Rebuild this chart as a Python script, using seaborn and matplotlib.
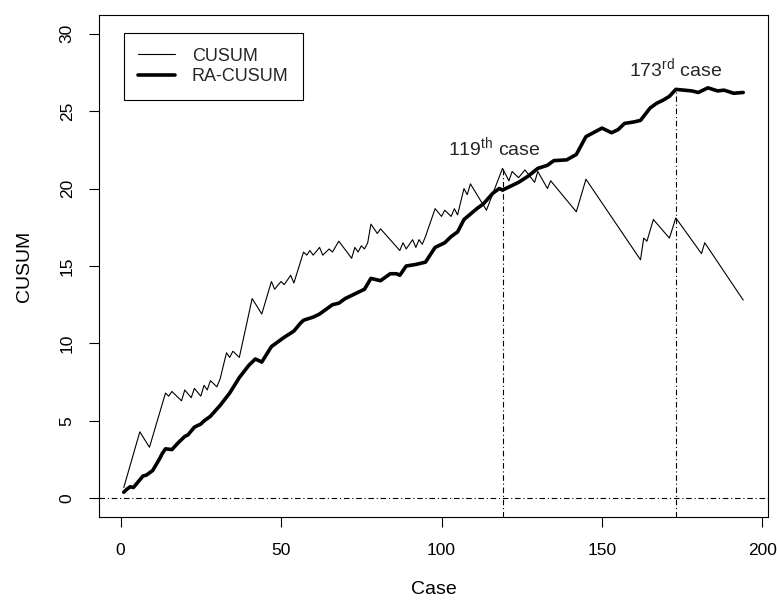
import pandas as pd
import seaborn as sns
from matplotlib import pyplot as plt

# CUSUM (thin line) - turning points
cusum_case = [1, 6, 9, 14, 15, 16, 19, 20, 22, 23, 25, 26, 27, 28, 30, 31, 33, 34, 35, 37,
              41, 44, 47, 48, 50, 51, 53, 54, 57, 58, 59, 60, 62, 63, 65, 66, 68, 72,
              73, 74, 75, 76, 77, 78, 80, 81, 87, 88, 89, 91, 92, 93, 94, 95, 98,
              100, 101, 103, 104, 105, 107, 108, 109, 114, 119, 121, 122, 124, 126, 129,
              130, 133, 134, 142, 145, 162, 163, 164, 166, 171, 173, 181, 182, 194]
cusum_val = [0.7, 4.3, 3.3, 6.8, 6.6, 6.9, 6.3, 7.0, 6.5, 7.1, 6.6, 7.3, 7.0, 7.6, 7.2, 7.7,
             9.4, 9.1, 9.5, 9.1, 12.9, 11.9, 14.0, 13.5, 14.0, 13.8, 14.4, 13.9, 15.9,
             15.7, 16.0, 15.7, 16.2, 15.7, 16.1, 15.9, 16.6, 15.5, 16.2, 15.9, 16.3,
             16.1, 16.5, 17.7, 17.1, 17.4, 16.0, 16.5, 16.1, 16.7, 16.2, 16.7, 16.4,
             16.9, 18.7, 18.2, 18.6, 18.2, 18.7, 18.3, 20.0, 19.6, 20.3, 18.6, 21.3,
             20.5, 21.1, 20.7, 21.2, 20.4, 21.1, 20.0, 20.5, 18.5, 20.6, 15.4, 16.8,
             16.6, 18.0, 16.8, 18.1, 15.8, 16.5, 12.8]

# RA-CUSUM (thick line)
ra_case = [1, 2, 3, 4, 7, 8, 10, 12, 13, 14, 16, 18, 20, 21, 23, 25, 26, 28, 31, 34, 37,
           40, 42, 44, 47, 49, 51, 54, 56, 57, 60, 62, 66, 68, 70, 74, 76, 78, 80, 81,
           84, 86, 87, 89, 92, 95, 98, 101, 103, 105, 107, 111, 113, 116, 118, 119,
           121, 124, 127, 130, 133, 135, 139, 142, 145, 150, 153, 155, 157, 160, 162,
           165, 167, 169, 171, 173, 178, 180, 183, 186, 188, 191, 194]
ra_val = [0.4, 0.6, 0.75, 0.7, 1.45, 1.5, 1.8, 2.5, 2.9, 3.2, 3.15, 3.6, 4.0, 4.1, 4.6,
          4.8, 5.0, 5.3, 6.0, 6.8, 7.8, 8.6, 9.0, 8.8, 9.8, 10.1, 10.4, 10.8, 11.3,
          11.5, 11.7, 11.9, 12.5, 12.6, 12.9, 13.3, 13.5, 14.2, 14.1, 14.05, 14.5,
          14.5, 14.4, 15.0, 15.1, 15.25, 16.2, 16.5, 16.9, 17.2, 18.0, 18.7, 19.0,
          19.7, 20.0, 19.9, 20.1, 20.4, 20.8, 21.3, 21.5, 21.8, 21.85, 22.2, 23.35,
          23.9, 23.6, 23.8, 24.2, 24.3, 24.4, 25.2, 25.5, 25.7, 25.95, 26.4, 26.3,
          26.2, 26.5, 26.3, 26.35, 26.15, 26.2]

marked_labels = [r'119$^{\mathrm{th}}$ case', r'173$^{\mathrm{rd}}$ case']

sns.set_style('ticks')
plt.rcParams['font.family'] = ['Liberation Sans', 'DejaVu Sans']
plt.rcParams['mathtext.fontset'] = 'custom'
plt.rcParams['mathtext.rm'] = 'Liberation Sans'

cusum = pd.DataFrame({'Case': cusum_case, 'CUSUM': cusum_val})
ra = pd.DataFrame({'Case': ra_case, 'CUSUM': ra_val})

fig = plt.figure(figsize=(7.77, 6.03), dpi=100)
ax = fig.add_axes([99 / 777, 1 - 517 / 603, 669 / 777, 502 / 603])

sns.lineplot(data=cusum, x='Case', y='CUSUM', color='black', lw=0.8,
             sort=False, estimator=None, label='CUSUM', ax=ax)
sns.lineplot(data=ra, x='Case', y='CUSUM', color='black', lw=2.6,
             sort=False, estimator=None, label='RA-CUSUM', ax=ax)

dd = (5, 2.5, 1, 2.5)
ax.axhline(0, color='black', lw=0.8, dashes=dd)
ymin = -1.2
top119 = cusum_val[cusum_case.index(119)]
top173 = ra_val[ra_case.index(173)]
ax.plot([119, 119], [ymin, top119], color='black', lw=0.8, dashes=dd)
ax.plot([173, 173], [ymin, top173], color='black', lw=0.8, dashes=dd)
ax.text(116.5, 22.6, marked_labels[0], ha='center', va='center', fontsize=14)
ax.text(173, 27.7, marked_labels[1], ha='center', va='center', fontsize=14)

ax.set_xlim(-6.72, 201.72)
ax.set_ylim(-1.2, 31.2)
ax.set_xticks([0, 50, 100, 150, 200])
ax.set_yticks([0, 5, 10, 15, 20, 25, 30])
ax.tick_params(axis='both', direction='out', length=7.5, width=0.8,
               color='black', labelsize=12.5, labelcolor='black')
ax.tick_params(axis='x', pad=11)
ax.tick_params(axis='y', pad=10, labelrotation=90)
for lab in ax.get_yticklabels():
    lab.set_va('center')
for s in ax.spines.values():
    s.set_visible(True)
    s.set_color('black')
    s.set_linewidth(0.8)

ax.set_xlabel('Case', fontsize=14, color='black')
ax.set_ylabel('CUSUM', fontsize=14, color='black')
ax.xaxis.set_label_coords(0.5, -0.128)
ax.yaxis.set_label_coords(-0.098, 0.5)

leg = ax.legend(loc='upper left', bbox_to_anchor=(0.0374, 0.964), borderaxespad=0,
                fontsize=13, frameon=True, fancybox=False, edgecolor='black',
                framealpha=1, handlelength=2.0, handletextpad=0.95,
                borderpad=0.8, labelspacing=0.2)
leg.get_frame().set_linewidth(0.8)

fig.savefig('out.png', dpi=100)
